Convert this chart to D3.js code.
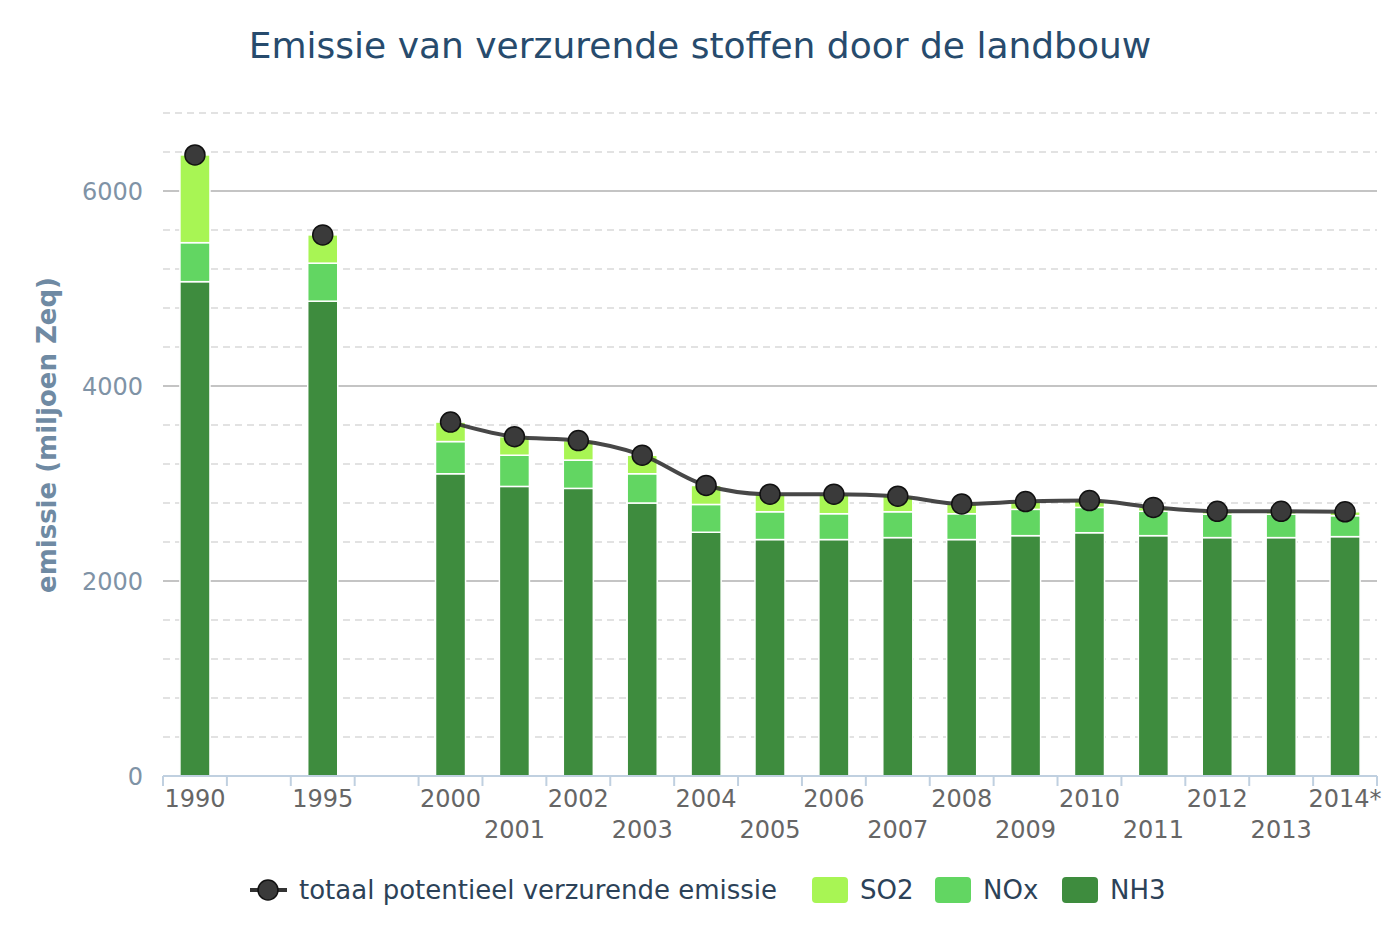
<!DOCTYPE html>
<html>
<head>
<meta charset="utf-8">
<script src="https://cdn.jsdelivr.net/npm/d3@7"></script>
<style>
  html, body { margin: 0; padding: 0; background: #fff; }
  svg { display: block; }
</style>
</head>
<body>
<svg id="chart" width="1400" height="933"></svg>
<script>
// ---- data ----
const categories = ["1990", "", "1995", "", "2000", "2001", "2002", "2003", "2004", "2005", "2006", "2007", "2008", "2009", "2010", "2011", "2012", "2013", "2014*"];
const nh3 = [5070, null, 4870, null, 3100, 2970, 2950, 2800, 2500, 2425, 2425, 2445, 2425, 2465, 2495, 2465, 2445, 2445, 2455];
const nox = [400, null, 390, null, 330, 320, 290, 300, 285, 285, 265, 265, 265, 270, 260, 250, 240, 240, 215];
const so2 = [900, null, 290, null, 200, 190, 200, 190, 195, 180, 200, 160, 100, 80, 70, 40, 30, 30, 40];
const totaal = [6370, null, 5550, null, 3630, 3480, 3440, 3290, 2980, 2890, 2890, 2870, 2790, 2815, 2825, 2755, 2715, 2715, 2710];
const yTicks = [0, 2000, 4000, 6000];
const seriesNames = { totaal: "totaal potentieel verzurende emissie", so2: "SO2", nox: "NOx", nh3: "NH3" };
const colors = { so2: "#a8f554", nox: "#62d662", nh3: "#3e8c3e", line: "#333333" };

// ---- layout ----
const svg = d3.select("#chart");
const plot = { left: 163, right: 1377, top: 113, bottom: 776 };

const x = d3.scaleBand().domain(d3.range(categories.length)).range([plot.left, plot.right]).paddingInner(0.53).paddingOuter(0.265);
const xSlot = d3.scaleBand().domain(d3.range(categories.length)).range([plot.left, plot.right]);
const y = d3.scaleLinear().domain([0, 6800]).range([plot.bottom, plot.top]);

// title
svg.append("text")
  .attr("x", 700).attr("y", 58)
  .attr("text-anchor", "middle")
  .attr("font-family", "DejaVu Sans, sans-serif")
  .attr("font-size", 36)
  .attr("fill", "#274b6d")
  .text("Emissie van verzurende stoffen door de landbouw");

// grid lines: minor dashed every 400, major solid every 2000
const minor = d3.range(400, 6801, 400).filter(v => v % 2000 !== 0);
svg.append("g").selectAll("line").data(minor).join("line")
  .attr("x1", plot.left).attr("x2", plot.right)
  .attr("y1", d => y(d)).attr("y2", d => y(d))
  .attr("stroke", "#d9d9d9").attr("stroke-width", 1.5).attr("stroke-dasharray", "7,5");
svg.append("g").selectAll("line").data(yTicks.filter(v => v > 0)).join("line")
  .attr("x1", plot.left).attr("x2", plot.right)
  .attr("y1", d => y(d)).attr("y2", d => y(d))
  .attr("stroke", "#c4c4c4").attr("stroke-width", 2);

// y axis labels
const yAxis = d3.axisLeft(y).tickValues(yTicks).tickSize(0).tickPadding(0).tickFormat(d3.format("d"));
const gy = svg.append("g").attr("transform", `translate(${plot.left - 20},0)`).call(yAxis);
gy.select(".domain").remove();
gy.selectAll("text")
  .attr("font-family", "DejaVu Sans, sans-serif")
  .attr("font-size", 24)
  .attr("fill", "#7f93a6")
  .attr("dy", "0.36em");

// y axis title
svg.append("text")
  .attr("transform", "translate(56,435) rotate(-90)")
  .attr("text-anchor", "middle")
  .attr("font-family", "DejaVu Sans, sans-serif")
  .attr("font-weight", "bold")
  .attr("font-size", 26)
  .attr("fill", "#6f8aa3")
  .text("emissie (miljoen Zeq)");

// stacked bars
const rows = categories.map((c, i) => ({ i, nh3: nh3[i], nox: nox[i], so2: so2[i] }));
const stack = d3.stack().keys(["nh3", "nox", "so2"]).value((d, k) => d[k] || 0);
const stacked = stack(rows);
const gBars = svg.append("g");
stacked.forEach(layer => {
  gBars.append("g").selectAll("rect")
    .data(layer.filter(d => d.data[layer.key] != null && d.data[layer.key] > 0))
    .join("rect")
    .attr("x", d => x(d.data.i))
    .attr("width", x.bandwidth())
    .attr("y", d => y(d[1]))
    .attr("height", d => y(d[0]) - y(d[1]))
    .attr("fill", colors[layer.key])
    .attr("stroke", "#ffffff")
    .attr("stroke-width", 1.5);
});

// x axis
const gx = svg.append("g").attr("transform", `translate(0,${plot.bottom})`);
gx.append("line").attr("x1", plot.left).attr("x2", plot.right).attr("y1", 0).attr("y2", 0)
  .attr("stroke", "#c0d0e0").attr("stroke-width", 2);
const tickPos = d3.range(categories.length + 1).map(i => i < categories.length ? xSlot(i) : plot.right);
gx.selectAll("line.tick").data(tickPos).join("line").attr("class", "tick")
  .attr("x1", d => d).attr("x2", d => d).attr("y1", 0).attr("y2", 10)
  .attr("stroke", "#c0d0e0").attr("stroke-width", 2);
gx.selectAll("text").data(categories.map((c, i) => ({ c, i }))).join("text")
  .attr("x", d => xSlot(d.i) + xSlot.bandwidth() / 2)
  .attr("y", d => d.i % 2 === 0 ? 31 : 62)
  .attr("text-anchor", "middle")
  .attr("font-family", "DejaVu Sans, sans-serif")
  .attr("font-size", 24)
  .attr("fill", "#666666")
  .text(d => d.c);

// total line (spline, broken at nulls)
const cx = i => x(i) + x.bandwidth() / 2;
const line = d3.line()
  .defined(d => d != null)
  .x((d, i) => cx(i))
  .y(d => y(d))
  .curve(d3.curveMonotoneX);
svg.append("path")
  .datum(totaal)
  .attr("d", line)
  .attr("fill", "none")
  .attr("stroke", colors.line)
  .attr("stroke-width", 4)
  .attr("stroke-opacity", 0.9);
svg.append("g").selectAll("circle")
  .data(totaal.map((v, i) => ({ v, i })).filter(d => d.v != null))
  .join("circle")
  .attr("cx", d => cx(d.i))
  .attr("cy", d => y(d.v))
  .attr("r", 10)
  .attr("fill", "#3a3a3a")
  .attr("stroke", "#111111")
  .attr("stroke-width", 1.5);

// legend
const lg = svg.append("g").attr("transform", "translate(0,890)");
lg.append("line").attr("x1", 250).attr("x2", 287).attr("y1", 0).attr("y2", 0)
  .attr("stroke", colors.line).attr("stroke-width", 4);
lg.append("circle").attr("cx", 268).attr("cy", 0).attr("r", 10)
  .attr("fill", "#3a3a3a").attr("stroke", "#111").attr("stroke-width", 1.5);
const legendText = (xPos, txt) => lg.append("text")
  .attr("x", xPos).attr("y", 0).attr("dy", "0.36em")
  .attr("font-family", "DejaVu Sans, sans-serif")
  .attr("font-size", 26)
  .attr("fill", "#2c4258")
  .text(txt);
legendText(299, seriesNames.totaal);
const swatches = [
  { key: "so2", x: 812, tx: 860 },
  { key: "nox", x: 935, tx: 983 },
  { key: "nh3", x: 1062, tx: 1110 }
];
swatches.forEach(s => {
  lg.append("rect").attr("x", s.x).attr("y", -13).attr("width", 36).attr("height", 26)
    .attr("rx", 4).attr("fill", colors[s.key]);
  legendText(s.tx, seriesNames[s.key]);
});
</script>
</body>
</html>
